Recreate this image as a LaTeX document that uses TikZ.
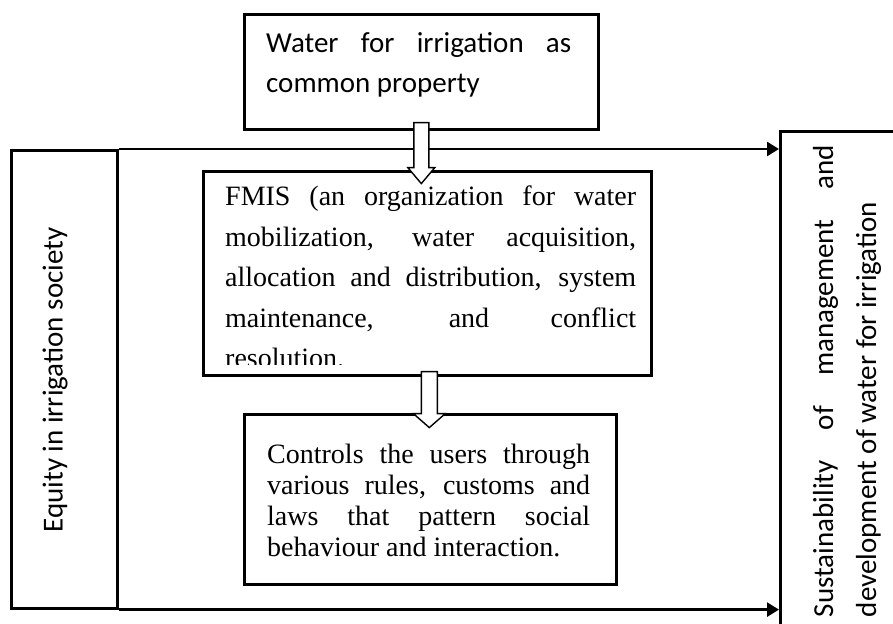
\documentclass[tikz,border=0pt]{standalone}
\usepackage{fontspec}
\setmainfont{Liberation Serif}
\newfontfamily\calibri{Carlito}
\usetikzlibrary{arrows.meta}

\tikzset{
  box/.style={draw, line width=2.6pt, inner sep=0pt, anchor=north west},
  ser/.style={inner sep=0pt, anchor=north west, align=justify, font=\fontsize{28}{#1}\selectfont},
  cal/.style={inner sep=0pt, align=justify, font=\calibri\fontsize{29}{#1}\selectfont},
  link/.style={line width=2.6pt, -{Triangle[length=12pt,width=14pt]}},
  hollow/.style={draw, fill=white, line width=1.4pt, line join=miter}
}

\begin{document}
\begin{tikzpicture}[x=1pt,y=-1pt]
  \clip (0,0) rectangle (893,623);
  % frames
  \node[box, minimum width=354pt, minimum height=115pt] (water) at (243,13) {};
  \node[box, minimum width=106pt, minimum height=458pt] (equity) at (10,149) {};
  \node[box, minimum width=448pt, minimum height=204pt] (fmis) at (202,170) {};
  \node[box, minimum width=372pt, minimum height=170pt] (rules) at (243,413) {};
  \node[box, minimum width=200pt, minimum height=600pt] (sustain) at (779,130) {};
  % texts
  \node[cal=40, anchor=north west, text width=305pt] (watertxt) at (266,32)
    {Water for irrigation as\linebreak common property};
  \node[cal=35, rotate=90] (equitytxt) at (55,380) {Equity in irrigation society};
  \begin{scope}
    \clip (fmis.north west) rectangle ([yshift=12pt]fmis.south east);
    \node[ser=40.5, text width=411pt] (fmistxt) at (225,186)
      {FMIS (an organization for water\linebreak mobilization, water acquisition,\linebreak
       allocation and distribution, system\linebreak maintenance, and conflict\linebreak resolution.};
  \end{scope}
  \node[ser=31, text width=323pt] (rulestxt) at (267,444)
    {Controls the users through\linebreak various rules, customs and\linebreak
     laws that pattern social\linebreak behaviour and interaction.};
  \node[cal=43, rotate=90, text width=472pt] (sustaintxt) at (847,381)
    {Sustainability of management and\linebreak development of water for irrigation};
  % connectors
  \draw[link] (equity.north east) -- (equity.north east -| sustain.west);
  \draw[link] (equity.south east) -- (equity.south east -| sustain.west);
  \draw[hollow] (water.south) ++(-7.5,-8) -- ++(0,45) -- ++(-6,0) -- ++(13.5,16)
    -- ++(13.5,-16) -- ++(-6,0) -- ++(0,-45) -- cycle;
  \draw[hollow] ([xshift=2pt]fmis.south) ++(-8,-5) -- ++(0,42) -- ++(-8,0) -- ++(16,14)
    -- ++(16,-14) -- ++(-8,0) -- ++(0,-42) -- cycle;
\end{tikzpicture}
\end{document}
